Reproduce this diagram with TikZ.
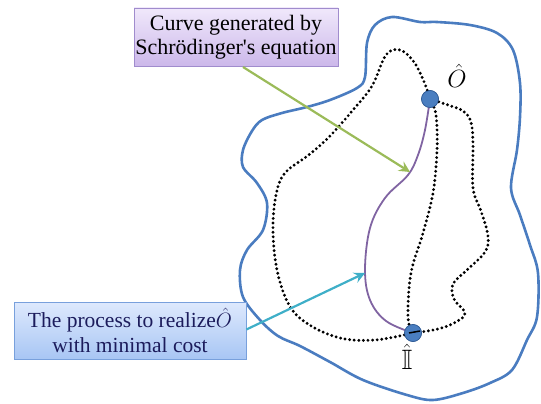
\documentclass[tikz,border=0pt]{standalone}
\usepackage{amsmath,amssymb}
\usepackage{fontspec}
\setmainfont{Liberation Serif}[Ligatures=TeXOff]
\usetikzlibrary{arrows.meta}
\definecolor{outl}{HTML}{4A7CC0}
\definecolor{purp}{HTML}{8064A2}
\definecolor{grn}{HTML}{9BBB59}
\definecolor{cyn}{HTML}{3FAFC8}
\definecolor{dotfill}{HTML}{4A7EC0}
\definecolor{dotdraw}{HTML}{2F5A94}
\definecolor{navy}{HTML}{1C1C5C}
\tikzset{
  dotline/.style={line width=3.2pt, line cap=round, dash pattern=on 0pt off 4.6pt, black},
  pathcurve/.style={line width=1.8pt, purp},
  region/.style={line width=2.6pt, outl, line join=round},
  state/.style={circle, fill=dotfill, draw=dotdraw, line width=0.6pt, minimum size=17pt, inner sep=0pt},
  callout/.style={line width=2.2pt, -{Stealth[length=11pt,width=11pt,inset=4pt]}},
  purplebox/.style={draw={rgb,255:red,160;green,140;blue,205}, line width=0.8pt, top color={rgb,255:red,240;green,232;blue,251}, bottom color={rgb,255:red,204;green,184;blue,234}, minimum width=204pt, minimum height=58pt, align=center, font=\fontsize{22}{24}\selectfont, inner sep=0pt},
  bluebox/.style={draw={rgb,255:red,120;green,160;blue,220}, line width=0.8pt, top color={rgb,255:red,222;green,233;blue,253}, bottom color={rgb,255:red,168;green,198;blue,244}, minimum width=232pt, minimum height=57pt, align=center, font=\fontsize{21.5}{25}\selectfont, text=navy, inner sep=0pt},
}
\begin{document}
\begin{tikzpicture}[x=1pt,y=-1pt]
\useasboundingbox (0,0) rectangle (541,404);
% region outline
\draw[region] plot[smooth cycle, tension=0.55] coordinates {
 (365,77) (367,43) (375,25) (392,17) (420,22) (437,22) (470,25) (497,33) (513,50)
 (520,83) (520,117) (517,150) (511,188) (520,215) (530,245) (538,273) (537,317)
 (527,340) (512,370) (490,383) (463,393) (433,400) (407,395) (363,380) (330,362)
 (300,346) (278,336) (260,320) (243,297) (240,270) (247,250) (263,230) (267,203)
 (257,183) (243,167) (243,150) (252,131) (262,120) (282,113) (307,107) (330,100) (357,88)};
% states
\node[state] (O) at (430,99) {};
\node[state] (I) at (413,333) {};
% dotted paths
\draw[dotline] plot[smooth, tension=0.6] coordinates {(O.center) (425,84) (414,62) (400,50) (386,55) (372,86) (353,110) (330,136) (310,154) (285,173) (276,195) (273,230) (277,270) (289,305) (308,324) (340,338) (375,340) (I.center)};
\draw[dotline] plot[smooth, tension=0.6] coordinates {(O.center) (436,115) (437,150) (433,193) (423,233) (411,273) (408,317) (I.center)};
\draw[dotline] plot[smooth, tension=0.6] coordinates {(O.center) (448,105) (463,111) (471,122) (473,145) (473,188) (481,211) (488,236) (485,252) (467,270) (453,284) (454,299) (465,313) (456,322) (438,329) (I.center)};
% Schroedinger curve
\draw[pathcurve] plot[smooth, tension=0.6] coordinates {(O.center) (425,130) (418,155) (408,175) (385,198) (370,228) (365,270) (370,300) (386,321) (I.center)};
\node[state] at (O) {};
\node[state] at (I) {};
\draw[line width=1.5pt] (409,333) -- (420,331);
% labels
\node (Ol) at (457,76) {\fontsize{33}{34}\selectfont$\hat{O}$};
\node (Il) at (407,357) {\fontsize{28}{29}\selectfont$\hat{\mathbb{I}}$};
% boxes
\node[purplebox] (pb) at (236,37) {Curve generated by\\Schrödinger's equation};
\node[bluebox] (bb) at (130,330.5) {The process to realize$\hat{O}$\\with minimal cost};
% callout arrows
\coordinate (gt) at (410,172);
\coordinate (ct) at (365,273);
\draw[callout, grn] (243,67) -- (gt);
\draw[callout, cyn] (bb.east) ++(0,-1) -- (ct);
\end{tikzpicture}
\end{document}
